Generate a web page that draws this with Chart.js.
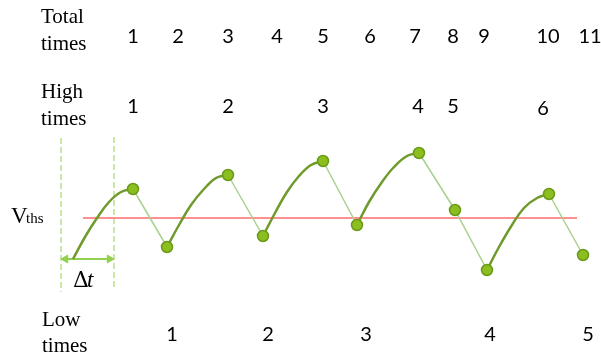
<!DOCTYPE html>
<html>
<head>
<meta charset="utf-8">
<script src="https://cdn.jsdelivr.net/npm/chart.js@4"></script>
<style>
  body { margin: 0; background: #fff; }
  #wrap { width: 601px; height: 359px; }
</style>
</head>
<body>
<div id="wrap"><canvas id="pulseChart" width="601" height="359"></canvas></div>
<script>
// sample points: time (t) and voltage relative to threshold (v)
const sampleT = [13.3, 16.7, 22.8, 26.3, 32.3, 35.7, 41.9, 45.5, 48.7, 54.9, 58.3];
const sampleV = [2.9, -2.9, 4.3, -1.8, 5.7, -0.7, 6.5, 0.8, -5.2, 2.4, -3.7];

// rising (charging) arcs
const riseT = [
  [7.3, 8.5, 9.7, 10.9, 12.1, 13.3],
  [16.7, 17.9, 19.1, 20.4, 21.6, 22.8],
  [26.3, 27.5, 28.7, 29.9, 31.1, 32.3],
  [35.7, 36.9, 38.2, 39.4, 40.7, 41.9],
  [48.7, 49.9, 51.2, 52.4, 53.7, 54.9]
];
const riseV = [
  [-4.1, -1.9, 0.0, 1.6, 2.6, 2.9],
  [-2.9, -0.7, 1.3, 2.9, 4.0, 4.3],
  [-1.8, 0.5, 2.6, 4.2, 5.3, 5.7],
  [-0.7, 1.6, 3.6, 5.1, 6.2, 6.5],
  [-5.2, -2.9, -0.7, 1.0, 2.0, 2.4]
];

// threshold line
const vthsT = [8.3, 57.7];
const vthsV = [0, 0];

// delta t window
const windowT = [6.1, 11.4];
const windowTop = [8.0, 8.1];
const windowBottom = [-7.4, -7.0];
const arrowV = -4.1;

// text labels
const totalTimes = ['1', '2', '3', '4', '5', '6', '7', '8', '9', '10', '11'];
const highTimes = ['1', '2', '3', '4', '5', '6'];
const lowTimes = ['1', '2', '3', '4', '5'];
// where each label sits along the time axis
const totalAt = [13.3, 17.8, 22.8, 27.7, 32.3, 37.0, 41.5, 45.3, 48.4, 54.8, 59.0];
const highAt = [13.3, 22.8, 32.3, 41.8, 45.3, 54.3];
const lowAt = [17.2, 26.8, 36.6, 49.0, 58.8];

const toXY = (ts, vs) => ts.map((t, i) => ({ x: t, y: vs[i] }));

const datasets = [];

// main samples + falling straight segments
datasets.push({
  data: toXY(sampleT, sampleV),
  order: 0,
  borderWidth: 1.5,
  tension: 0,
  segment: {
    borderColor: c => c.p1.parsed.y < c.p0.parsed.y ? '#A9D18E' : 'rgba(0,0,0,0)'
  },
  pointRadius: 5.5,
  pointBackgroundColor: '#8BBE1E',
  pointBorderColor: '#6B9A1A',
  pointBorderWidth: 1.5
});

riseT.forEach((ts, i) => {
  datasets.push({
    data: toXY(ts, riseV[i]),
    order: 1,
    borderColor: '#6F9A2C',
    borderWidth: 2.5,
    tension: 0.4,
    pointRadius: 0
  });
});

datasets.push({
  data: toXY(vthsT, vthsV),
  order: 2,
  borderColor: '#FF6B6B',
  borderWidth: 1.5,
  pointRadius: 0
});

windowT.forEach((t, i) => {
  datasets.push({
    data: [{ x: t, y: windowTop[i] }, { x: t, y: windowBottom[i] }],
    order: 2,
    borderColor: '#A6D86A',
    borderWidth: 1.2,
    borderDash: [6, 3],
    pointRadius: 0
  });
});

// double-headed arrow for delta t
datasets.push({
  data: [{ x: windowT[0] + 0.45, y: arrowV }, { x: windowT[1] - 0.45, y: arrowV }],
  order: 1,
  borderColor: '#92D050',
  borderWidth: 2,
  pointStyle: 'triangle',
  pointRotation: [-90, 90],
  pointRadius: 4.5,
  pointBackgroundColor: '#92D050',
  pointBorderColor: '#92D050',
  pointBorderWidth: 1
});

const textPlugin = {
  id: 'labels',
  afterDraw(chart) {
    const ctx = chart.ctx;
    const xs = chart.scales.x;
    ctx.save();
    ctx.fillStyle = '#000';
    ctx.textBaseline = 'alphabetic';

    ctx.font = '21px "Liberation Serif"';
    ctx.textAlign = 'left';
    ctx.fillText('Total', 41, 23);
    ctx.fillText('times', 41, 50);
    ctx.fillText('High', 41, 98);
    ctx.fillText('times', 41, 125);
    ctx.fillText('Low', 42, 326);
    ctx.fillText('times', 42, 352);

    ctx.font = '23px "Liberation Serif"';
    ctx.fillText('V', 11, 223);
    ctx.font = '15px "Liberation Serif"';
    ctx.fillText('ths', 26, 223);

    ctx.font = '22px "DejaVu Serif"';
    ctx.fillText('\u0394', 73, 287);
    ctx.font = 'italic 23px "Liberation Serif"';
    ctx.fillText('t', 87, 287);

    ctx.font = '20px Lato';
    ctx.textAlign = 'center';
    totalTimes.forEach((s, i) => ctx.fillText(s, xs.getPixelForValue(totalAt[i]), 43));
    highTimes.forEach((s, i) => ctx.fillText(s, xs.getPixelForValue(highAt[i]), i === 5 ? 115 : 113));
    lowTimes.forEach((s, i) => ctx.fillText(s, xs.getPixelForValue(lowAt[i]), 341));
    ctx.restore();
  }
};

new Chart(document.getElementById('pulseChart'), {
  type: 'line',
  data: { datasets: datasets },
  options: {
    responsive: false,
    animation: false,
    layout: { padding: 0, autoPadding: false },
    plugins: { legend: { display: false }, tooltip: { enabled: false } },
    scales: {
      x: { type: 'linear', min: 0, max: 60.1, display: false },
      y: { type: 'linear', min: -14.1, max: 21.8, display: false }
    }
  },
  plugins: [textPlugin]
});
</script>
</body>
</html>
